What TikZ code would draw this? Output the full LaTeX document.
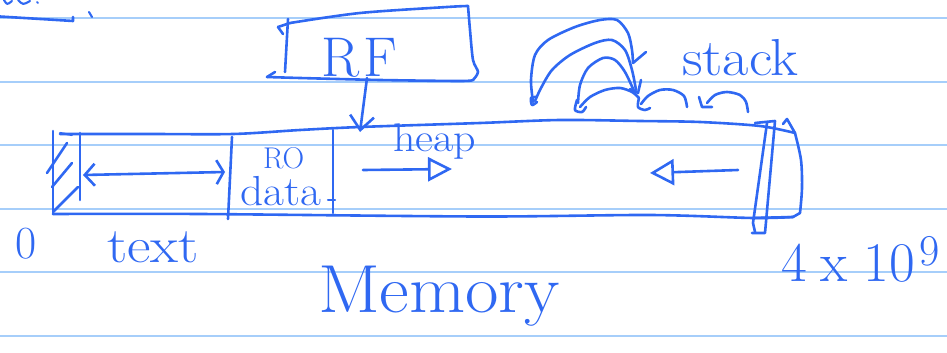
\documentclass[tikz,border=0pt]{standalone}
\usepackage{graphicx}
\usetikzlibrary{arrows.meta}
\definecolor{ink}{RGB}{47,104,242}
\definecolor{ruling}{RGB}{166,206,250}
\begin{document}
\begin{tikzpicture}[x=1pt,y=-1pt,
  pen/.style={draw=ink,line width=2.6pt,line cap=round,line join=round},
  thinpen/.style={pen,line width=2.1pt},
  rulingline/.style={draw=ruling,line width=2pt},
  hand/.style={text=ink,inner sep=0pt,outer sep=0pt,anchor=base west},
  barbs/.style={pen,{Straight Barb[length=10pt,width=22pt]}-{Straight Barb[length=7pt,width=24pt]}},
  growright/.style={pen,-{Triangle[open,length=24pt,width=24pt]}},
  growleft/.style={pen,-{Triangle[open,length=24pt,width=26pt]}},
  downarrow/.style={pen,-{Straight Barb[length=14pt,width=24pt]}}]
\useasboundingbox (0,0) rectangle (947,353);

% ruled paper
\foreach \yy in {18,81.5,145,208.5,272,335.5}
  \draw[rulingline] (0,\yy) -- (947,\yy);

% remnants of the previous notes
\draw[pen] (0,16.5) -- (73,21) -- (73,17);
\draw[thinpen] (89,12) -- (92,17);
\draw[thinpen] (4,0) .. controls (7,5) .. (12,1);
\draw[thinpen] (18,0) .. controls (23,5) .. (30,1);
\draw[thinpen] (37,2) -- (38,3);

% register file
\draw[pen] (278,27) -- (283,34);
\draw[pen] (278,27) -- (290,23);
\draw[pen] (288,19) -- (285,72);
\draw[pen] plot[smooth] coordinates {(290,23) (360,13) (447,7) (468,6)};
\draw[pen] plot[smooth] coordinates {(468,6) (470,30) (473,60) (478,72) (473,80)};
\draw[pen] (275,72) -- (267,77);
\draw[pen] plot[smooth] coordinates {(267,77) (300,78) (380,80) (460,81) (473,80)};
\node[hand,font=\fontsize{56}{56}\selectfont] (rf) at (321,76) {R\hspace{4pt}F};

% memory strip
\draw[pen] plot[smooth] coordinates {(60,134) (150,134) (233,134) (300,130) (360,127) (480,123) (560,120) (640,121) (700,122) (760,126) (795,133)};
\draw[pen] (53,131) -- (53,214);
\draw[pen] plot[smooth] coordinates {(53,214) (200,214) (480,216.5) (650,215) (753,218) (793,217)};
\draw[pen] (80,133) -- (80,200);
\draw[thinpen] (60,133) -- (72,135);
\draw[pen] (47,173) -- (67,143);
\draw[pen] (52,187) -- (72,163);
\draw[pen] (53,212) -- (78,187);
% segment boundaries
\draw[pen] (232,137) -- (228,219);
\draw[pen] (333,130) -- (333,213);
\draw[thinpen] (328,200) -- (335,200);
% top end of the address space
\draw[pen] (755,123) -- (775,121) -- (765,233) -- (752,233);
\draw[pen] (767,123) -- (753,223) -- (755,232);
\draw[pen] (783,124) -- (787,119) -- (795,133);
\draw[pen] plot[smooth] coordinates {(795,133) (801,160) (802,188) (800,213)};
\draw[pen] (800,213) -- (793,217) -- (753,218);

% register file points into memory
\coordinate (rfout) at (367,78);
\coordinate (memtop) at (360,132);
\draw[downarrow] (rfout) -- (memtop);

% text segment extent
\coordinate (textL) at (83,175);
\coordinate (textR) at (225,172);
\draw[barbs] (textL) -- (textR);

% heap grows up, stack grows down
\coordinate (heapS) at (363,170);
\coordinate (heapE) at (452,169);
\draw[growright] (heapS) -- (heapE);
\coordinate (stackS) at (738,170);
\coordinate (stackE) at (650,173);
\draw[growleft] (stackS) -- (stackE);

% stack frames being pushed and popped
\draw[pen] plot[smooth] coordinates {(533,102) (531,80) (535,55) (548,40) (575,27) (600,20) (617,20) (628,33) (632,50) (633,63)};
\draw[pen] (633,63) -- (646,52);
\draw[pen] plot[smooth] coordinates {(535,101) (541,88) (552,70) (570,55) (595,43) (612,40) (625,50) (632,70) (636,90)};
\draw[pen] plot[smooth] coordinates {(536,97) (531,98) (532,105) (537,102)};
\draw[pen] plot[smooth] coordinates {(578,103) (580,85) (588,68) (603,58) (615,60) (625,72) (634,91)};
\draw[pen] plot[smooth] coordinates {(580,107) (590,97) (605,90) (620,88) (632,92) (639,98)};
\draw[pen] plot[smooth] coordinates {(577,100) (575,110) (582,112) (586,107)};
\draw[pen] (641,80) -- (638,93) -- (630,89);
\draw[pen] plot[smooth] coordinates {(641,104) (648,96) (660,90) (673,90) (684,96) (687,107)};
\draw[pen] plot[smooth] coordinates {(639,98) (638,107) (645,110) (650,108)};
\draw[pen] plot[smooth] coordinates {(707,103) (715,95) (727,92) (740,95) (746,102) (748,112)};
\draw[pen] (699,97) -- (702,107) -- (712,107);

% labels
\node[hand,font=\fontsize{52}{52}\selectfont] (stacklbl) at (682,75) {\scalebox{1.1}[1]{stack}};
\node[hand,font=\fontsize{40}{40}\selectfont] (heaplbl) at (393,151) {\scalebox{1.1}[1]{heap}};
\node[hand,font=\fontsize{30}{30}\selectfont] (rolbl) at (263,168) {RO};
\node[hand,font=\fontsize{42}{42}\selectfont] (datalbl) at (240,205) {\scalebox{1.08}[1]{data}};
\node[hand,font=\fontsize{46}{46}\selectfont] (zerolbl) at (16,258) {0};
\node[hand,font=\fontsize{50}{50}\selectfont] (textlbl) at (107,262) {\scalebox{1.15}[1]{text}};
\node[hand,font=\fontsize{56}{56}\selectfont] (toplbl) at (781,281) {4\hspace{14pt}x\hspace{16pt}10\hspace{4pt}\raisebox{16pt}{\fontsize{44}{44}\selectfont 9}};
\node[hand,font=\fontsize{68}{68}\selectfont] (memlbl) at (318,312) {\scalebox{1.07}[1]{Memory}};
\end{tikzpicture}
\end{document}
